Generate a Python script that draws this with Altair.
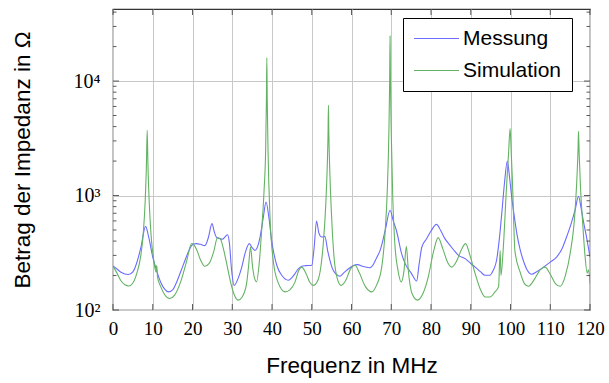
import altair as alt
import pandas as pd

# ---------------- data ----------------
freq_mess = [
    0, 1, 2, 3.9, 5, 6, 7, 8.2, 9, 10,
    11, 12, 13, 13.9, 15, 16, 17, 18, 19, 20,
    21, 22, 23.1, 24, 24.9, 25.5, 26.1, 26.9, 27.5, 28.3,
    28.8, 29.3, 29.8, 30.5, 31.5, 32.4, 33.3, 34.3, 35, 35.7,
    36.4, 37, 37.8, 38.5, 39.2, 39.9, 41.2, 42.5, 44.1, 45,
    45.8, 46.5, 47.5, 48.5, 50, 50.6, 51.2, 51.8, 52.5, 53.3,
    54, 55.4, 56.2, 57.1, 58, 59.6, 60.5, 61.5, 63, 64.7,
    65.5, 66.3, 67.2, 68.5, 69.7, 70.5, 71.4, 72.5, 73.5, 75.1,
    76.4, 77, 77.7, 78.9, 80, 81.4, 82.5, 83.5, 84.8, 86,
    86.9, 88.6, 90, 91.1, 92.5, 93.6, 94.8, 95.6, 96.5, 97.2,
    97.8, 98.5, 99.2, 99.8, 100.3, 101, 101.6, 102.4, 103.2, 104.3,
    105.3, 106.5, 108.3, 110, 111.6, 113, 114.1, 115.2, 116.3, 117.1,
    117.7, 118.3, 119.2, 120,
]
imp_mess = [
    242, 228, 214, 204, 215, 260, 350, 538, 430, 290,
    220, 175, 152, 144, 150, 175, 215, 265, 325, 372,
    380, 375, 365, 430, 568, 480, 429, 420, 415, 440,
    455, 380, 230, 164, 190, 237, 320, 380, 350, 332,
    360, 434, 640, 877, 650, 406, 246, 200, 182, 192,
    208, 226, 241, 244, 246, 350, 599, 470, 434, 440,
    330, 222, 205, 197, 210, 234, 245, 249, 240, 234,
    250, 285, 332, 500, 743, 600, 480, 320, 254, 208,
    179, 250, 355, 420, 490, 560, 490, 420, 367, 325,
    300, 281, 255, 237, 215, 201, 201, 220, 272, 420,
    695, 1300, 2000, 1400, 970, 640, 465, 340, 272, 220,
    205, 215, 237, 262, 290, 345, 434, 560, 760, 985,
    800, 607, 420, 290,
]

freq_sim = [
    0, 1, 2, 3, 4, 5, 6, 7, 7.6, 8.1,
    8.4, 8.6, 8.8, 9.1, 9.6, 10.2, 10.8, 11.0, 11.2, 12,
    13, 14.3, 15.5, 17, 18.5, 19.8, 21, 22, 23.1, 24.2,
    25.3, 26.3, 26.7, 27.1, 27.8, 28.6, 29.5, 30.5, 31.5, 32.5,
    33.6, 34.1, 34.6, 35.1, 35.6, 36.1, 36.8, 37.4, 38.0, 38.4,
    38.6, 38.7, 38.8, 39.0, 39.5, 40.3, 41.5, 43.3, 44.5, 45.8,
    46.7, 47.5, 48.5, 49.5, 50.4, 51.5, 52.3, 52.9, 53.5, 53.9,
    54.1, 54.2, 54.3, 54.5, 55.0, 55.6, 56.4, 57.4, 58.5, 59.8,
    60.9, 62, 63.5, 65.1, 66.3, 67.6, 68.4, 69.0, 69.4, 69.6,
    69.7, 69.8, 70.0, 70.4, 70.9, 71.7, 72.5, 73.2, 73.8, 74.3,
    75.2, 76.6, 78, 79.3, 80.6, 81.8, 83, 84.2, 85.2, 86.5,
    87.7, 88.7, 89.8, 91.1, 92.3, 93.6, 94.8, 96.1, 97.0, 97.4,
    97.6, 98.2, 99.0, 99.5, 99.9, 100.2, 100.5, 100.8, 101.1, 102.4,
    103.5, 104.5, 106, 107.5, 108.7, 110, 111.3, 112.5, 113.8, 115,
    116.2, 116.7, 117.0, 117.1, 117.3, 117.6, 118.2, 118.7, 119.3, 119.6,
    120,
]
imp_sim = [
    242, 210, 180, 166, 162, 172, 210, 300, 460, 900,
    1800, 3710, 1800, 900, 440, 280, 215, 245, 195, 160,
    136, 126, 135, 175, 265, 380, 340, 275, 241, 255,
    320, 429, 425, 412, 340, 254, 180, 136, 122, 130,
    170, 240, 355, 240, 190, 176, 260, 497, 1100, 2500,
    7000, 16000, 7000, 2500, 650, 272, 175, 144, 150, 176,
    220, 237, 210, 175, 164, 180, 240, 380, 800, 1800,
    3500, 6130, 3500, 1800, 650, 290, 190, 164, 180, 230,
    246, 210, 160, 144, 165, 237, 450, 1100, 3500, 10000,
    24700, 10000, 3500, 900, 380, 222, 176, 220, 360, 220,
    140, 122, 140, 194, 320, 429, 340, 260, 237, 270,
    340, 380, 300, 208, 155, 130, 130, 144, 160, 330,
    200, 355, 1190, 2300, 3840, 2300, 1300, 600, 330, 215,
    170, 161, 185, 225, 237, 205, 170, 161, 200, 311,
    700, 1400, 2600, 3660, 2200, 1200, 550, 311, 210, 225,
    170,
]

series_names = ["Messung", "Simulation"]
series_colors = ["#6b6bff", "#63b363"]
x_ticks = [0, 10, 20, 30, 40, 50, 60, 70, 80, 90, 100, 110, 120]
y_major = [100, 1000, 10000]
y_minor = [200, 300, 400, 500, 600, 700, 800, 900,
           2000, 3000, 4000, 5000, 6000, 7000, 8000, 9000,
           20000, 30000, 40000]

# ---------------- layout ----------------
W, H = 477, 301
FRAME = "#333333"

df = pd.concat([
    pd.DataFrame({"Frequenz": freq_mess, "Impedanz": imp_mess, "Serie": series_names[0]}),
    pd.DataFrame({"Frequenz": freq_sim, "Impedanz": imp_sim, "Serie": series_names[1]}),
], ignore_index=True)

x_scale = alt.Scale(domain=[0, 120], nice=False, zero=False)
y_scale = alt.Scale(type="log", domain=[100, 42600], nice=False)

x_axis = alt.Axis(values=x_ticks, title="Frequenz in MHz", grid=True,
                  labelFont="Liberation Serif", labelFontSize=19, labelColor="black",
                  labelPadding=9, labelFlush=False, labelOverlap=False,
                  titleFont="Liberation Sans", titleFontSize=22.5, titleFontWeight="normal",
                  titleColor="black", titleX=W / 2, titleY=55, titleBaseline="middle",
                  titleAlign="center")
y_axis = alt.Axis(values=y_major, title="Betrag der Impedanz in Ω", grid=True,
                  labelExpr="datum.value == 100 ? '10²' : datum.value == 1000 ? '10³' : '10⁴'",
                  labelFont="Liberation Serif", labelFontSize=20, labelColor="black",
                  labelPadding=13, labelBaseline="middle", labelFlush=False,
                  titleFont="Liberation Sans", titleFontSize=22.5, titleFontWeight="normal",
                  titleColor="black", titleX=-91, titleY=H / 2, titleAngle=-90,
                  titleBaseline="middle", titleAlign="center")

xenc = alt.X("Frequenz:Q", scale=x_scale, axis=x_axis)
yenc = alt.Y("Impedanz:Q", scale=y_scale, axis=y_axis)

lines = alt.Chart(df).mark_line(strokeWidth=1.1, interpolate="monotone", clip=True).encode(
    x=xenc,
    y=yenc,
    color=alt.Color("Serie:N", scale=alt.Scale(domain=series_names, range=series_colors),
                    legend=alt.Legend(title=None, orient="none", legendX=290, legendY=9,
                                      strokeColor="black", fillColor="white", padding=10,
                                      rowPadding=10, symbolType="stroke", symbolSize=2025,
                                      clipHeight=21,
                                      symbolStrokeWidth=1.2, symbolOffset=0, labelOffset=3,
                                      labelFont="Liberation Sans", labelFontSize=21,
                                      labelColor="black", cornerRadius=0)),
)

minor_df = pd.DataFrame({"Impedanz": y_minor})
major_df = pd.DataFrame({"Impedanz": y_major})
xt_df = pd.DataFrame({"Frequenz": x_ticks})

minor_l = alt.Chart(minor_df).mark_rule(color=FRAME, strokeWidth=0.8).encode(
    y=yenc, x=alt.value(0), x2=alt.value(3.5))
minor_r = alt.Chart(minor_df).mark_rule(color=FRAME, strokeWidth=0.8).encode(
    y=yenc, x=alt.value(W - 3.5), x2=alt.value(W))
major_l = alt.Chart(major_df).mark_rule(color=FRAME, strokeWidth=0.8).encode(
    y=yenc, x=alt.value(0), x2=alt.value(6))
major_r = alt.Chart(major_df).mark_rule(color=FRAME, strokeWidth=0.8).encode(
    y=yenc, x=alt.value(W - 6), x2=alt.value(W))
xt_b = alt.Chart(xt_df).mark_rule(color=FRAME, strokeWidth=0.8).encode(
    x=xenc, y=alt.value(H - 6), y2=alt.value(H))
xt_t = alt.Chart(xt_df).mark_rule(color=FRAME, strokeWidth=0.8).encode(
    x=xenc, y=alt.value(0), y2=alt.value(6))

chart = alt.layer(lines, minor_l, minor_r, major_l, major_r, xt_b, xt_t).properties(
    width=W, height=H,
    autosize=alt.AutoSizeParams(type="none"),
    padding={"left": 113, "top": 9, "right": 19, "bottom": 73},
    background="white",
).configure_view(
    stroke=FRAME, strokeWidth=1.2,
).configure_axis(
    domain=False, ticks=False, gridColor="#c8c8c8", gridWidth=1,
)

chart.save("out.html", embed_options={"renderer": "svg", "actions": False})
